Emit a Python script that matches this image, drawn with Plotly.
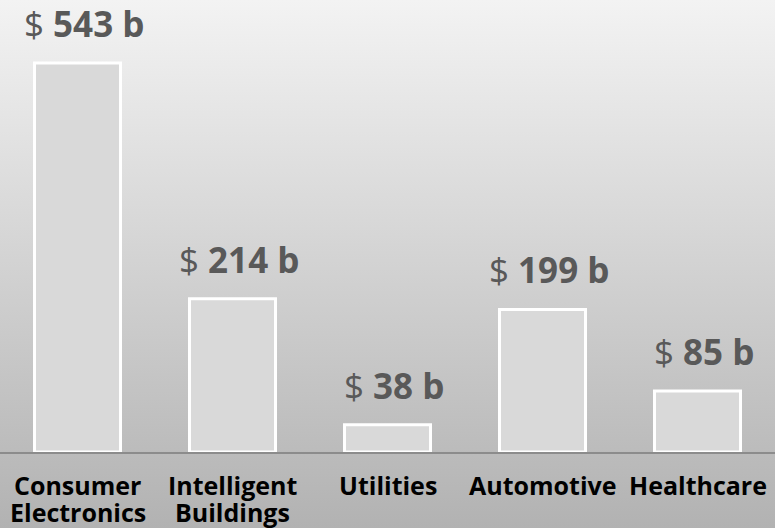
import base64

import plotly.graph_objects as go

categories = ["Consumer<br>Electronics", "Intelligent<br>Buildings", "Utilities", "Automotive", "Healthcare"]
values = [543, 214, 38, 199, 85]
labels = ["$ <b>543 b</b>", "$ <b>214 b</b>", "$ <b>38 b</b>", "$ <b>199 b</b>", "$ <b>85 b</b>"]

# vertical grey gradient for the background, as an inline svg
svg = (
    '<svg xmlns="http://www.w3.org/2000/svg" width="10" height="100" preserveAspectRatio="none">'
    '<defs><linearGradient id="g" x1="0" y1="0" x2="0" y2="1">'
    '<stop offset="0" stop-color="#f3f3f3"/><stop offset="1" stop-color="#b2b2b2"/>'
    '</linearGradient></defs><rect width="10" height="100" fill="url(#g)"/></svg>'
)
bg = "data:image/svg+xml;base64," + base64.b64encode(svg.encode()).decode()

fig = go.Figure(go.Bar(
    x=categories, y=values,
    marker=dict(color="#d9d9d9", line=dict(color="white", width=3)),
    hoverinfo="skip",
))

# value labels above the bars
for c, v, t in zip(categories, values, labels):
    fig.add_annotation(x=c, y=v, text=t, showarrow=False, yanchor="bottom", yshift=14, xshift=6,
                       font=dict(family="Open Sans", size=35, color="#595959"))

# category names under the axis, one annotation per line (tighter line spacing than ticks)
for c in categories:
    for i, line in enumerate(c.split("<br>")):
        fig.add_annotation(x=c, y=0, yref="paper", text=line, showarrow=False, yanchor="top",
                           yshift=-14 - 27 * i,
                           font=dict(family="Open Sans", size=25, color="black", weight="bold"))

fig.update_layout(
    width=775, height=528,
    margin=dict(l=0, r=0, t=0, b=76),
    paper_bgcolor="rgba(0,0,0,0)", plot_bgcolor="rgba(0,0,0,0)",
    bargap=0.445, showlegend=False,
    font=dict(family="Open Sans"),
    images=[dict(source=bg, xref="paper", yref="paper", x=0, y=1, sizex=1, sizey=1.17,
                 xanchor="left", yanchor="top", sizing="stretch", layer="below")],
)
fig.update_xaxes(showline=True, linecolor="#8c8c8c", linewidth=1.5, ticks="", showticklabels=False)
fig.update_yaxes(visible=False, range=[0, 631])
fig.write_html("out.html", config={"displayModeBar": False},
               post_script="document.body.style.margin='0';")
